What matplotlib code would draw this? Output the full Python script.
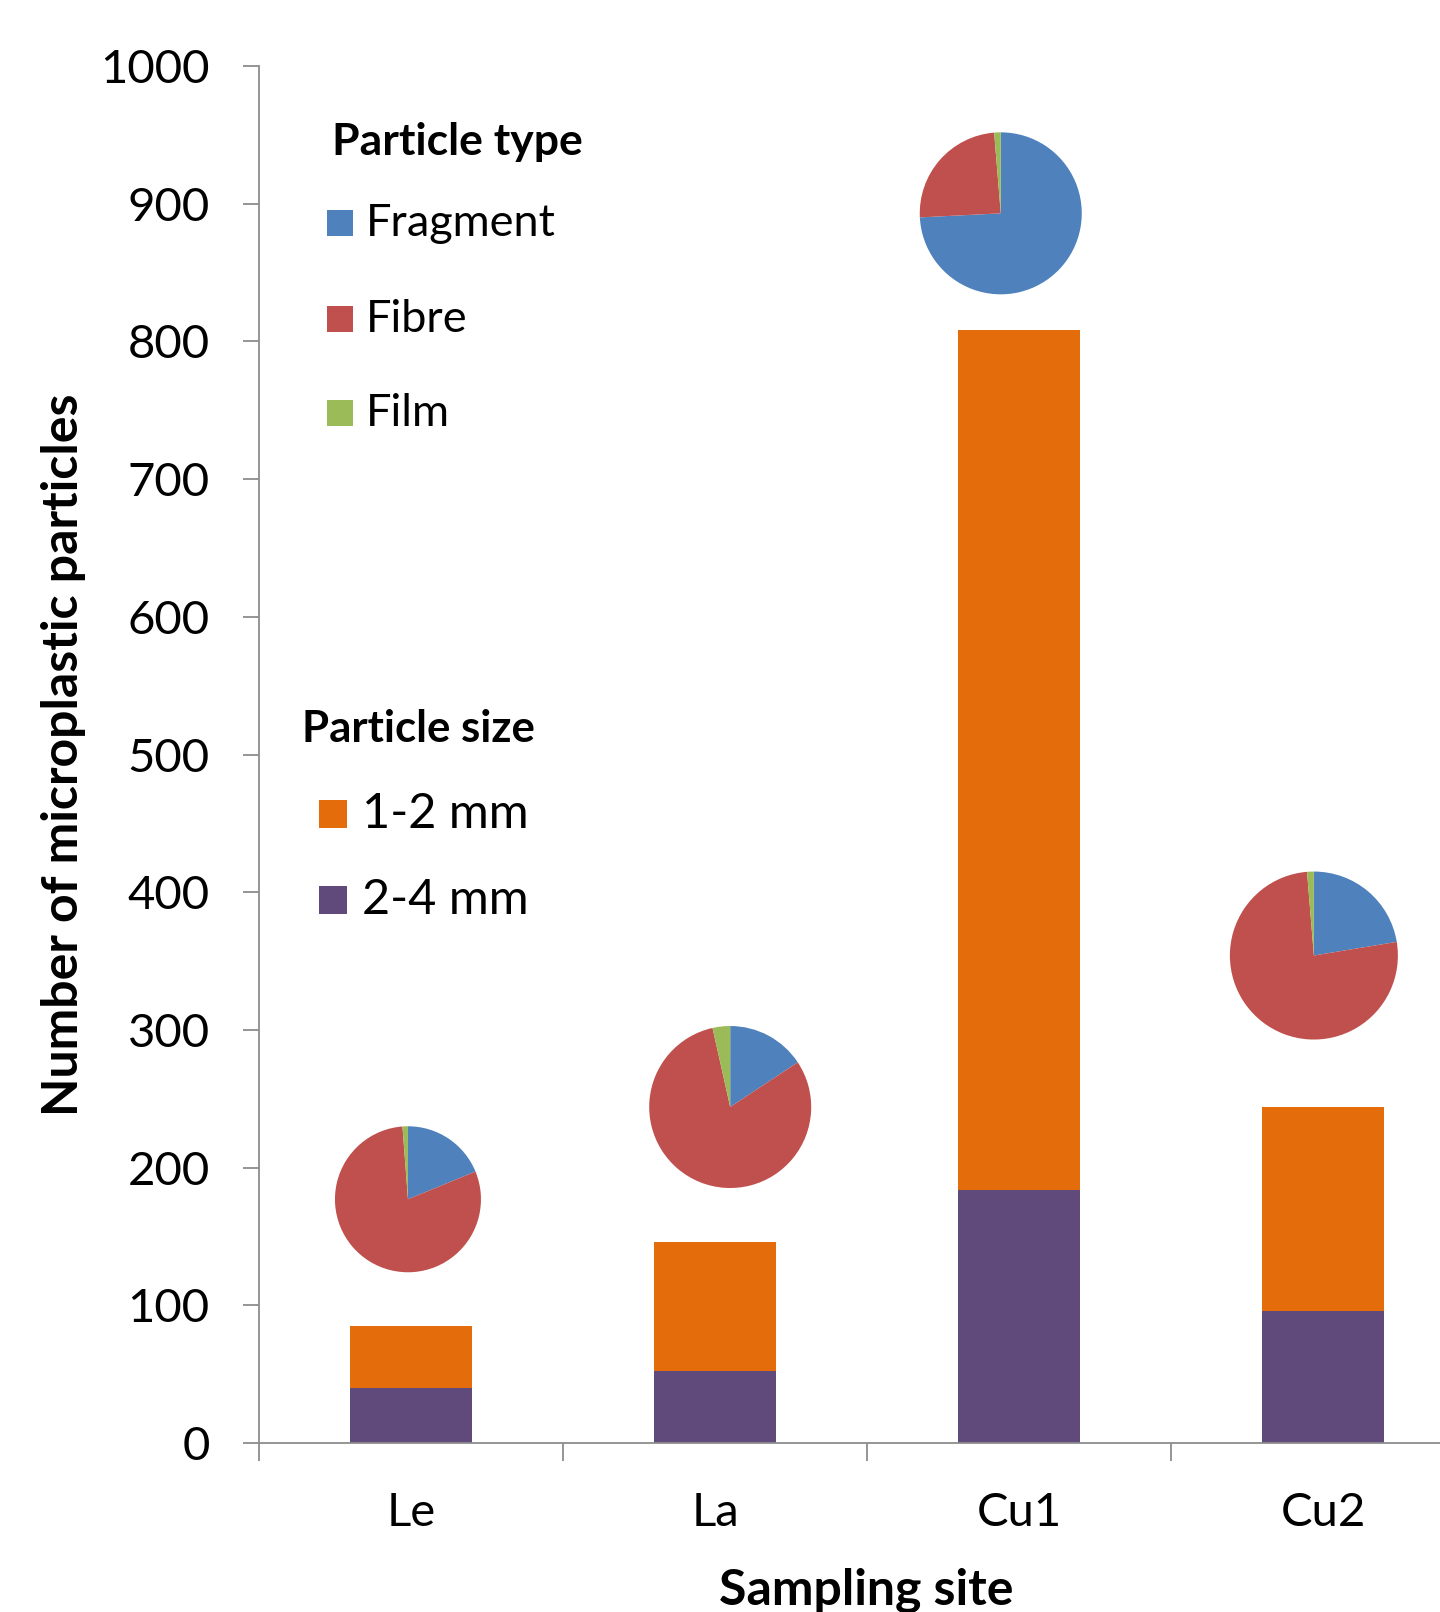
import matplotlib
matplotlib.use("Agg")
import matplotlib.pyplot as plt
from matplotlib.patches import Rectangle

plt.rcParams["font.family"] = ["Lato", "DejaVu Sans"]

# ── data ──
sites = ["Le", "La", "Cu1", "Cu2"]
size_2_4 = [40, 52, 184, 96]
size_1_2 = [45, 94, 624, 148]

type_labels = ["Fragment", "Fibre", "Film"]
fragment = [18.8, 15.7, 74.2, 22.4]
fibre = [80.0, 80.8, 24.5, 76.3]
film = [1.2, 3.5, 1.3, 1.3]

type_colors = ["#4F81BD", "#C0504D", "#9BBB59"]
size_labels = ["1-2 mm", "2-4 mm"]
size_colors = ["#E46C0A", "#604A7B"]

# pie placement (layout only): centre in data units, radius in pixels
pie_x = [-0.01, 1.05, 1.94, 2.97]
pie_y = [177, 244, 893, 354]
pie_r = [73, 81, 81, 84]

W, H = 1440, 1612
fig = plt.figure(figsize=(W / 100, H / 100), dpi=100)

# axes in pixel units: left 259, bottom 1443, top 66, category width 304
ax = fig.add_axes([259 / W, (H - 1443) / H, 4 * 304 / W, (1443 - 66) / H])
x = range(len(sites))
ax.bar(x, size_2_4, 0.4, color=size_colors[1], linewidth=0)
ax.bar(x, size_1_2, 0.4, bottom=size_2_4, color=size_colors[0], linewidth=0)

ax.set_xlim(-0.5, 3.5)
ax.set_ylim(0, 1000)
for s in ("top", "right"):
    ax.spines[s].set_visible(False)
for s in ("left", "bottom"):
    ax.spines[s].set_color("#8C8C8C")
    ax.spines[s].set_linewidth(1.3)

ax.set_yticks(range(0, 1001, 100))
ax.tick_params(axis="y", direction="out", length=11.5, width=1.3, color="#8C8C8C",
               labelsize=34, pad=24)
ax.set_xticks([-0.5, 0.5, 1.5, 2.5])
ax.set_xticklabels([])
ax.tick_params(axis="x", which="major", direction="out", length=13, width=1.3, color="#8C8C8C")
ax.set_xticks(list(x), minor=True)
ax.set_xticklabels(sites, minor=True)
ax.tick_params(axis="x", which="minor", length=0, labelsize=34, pad=35)

fig.text(866 / W, 1 - 1590 / H, "Sampling site", fontsize=36, fontweight="bold",
         ha="center", va="center")
fig.text(64 / W, 1 - 755 / H, "Number of microplastic particles", fontsize=36,
         fontweight="bold", ha="center", va="center", rotation=90)

# ── pies ──
fig.canvas.draw()
for i in range(len(sites)):
    cx, cy = ax.transData.transform((pie_x[i], pie_y[i]))
    r = pie_r[i]
    pax = fig.add_axes([(cx - r) / W, (cy - r) / H, 2 * r / W, 2 * r / H])
    pax.pie([fragment[i], fibre[i], film[i]], colors=type_colors, startangle=90,
            counterclock=False, radius=1, wedgeprops={"linewidth": 0})
    pax.set_xlim(-1, 1)
    pax.set_ylim(-1, 1)
    pax.set_aspect("equal")
    pax.axis("off")


# ── legends (pixel positions) ──
def legend_item(x_box, y_c, side, label, color, x_text, size):
    fig.patches.append(Rectangle(((x_box) / W, 1 - (y_c + side / 2) / H), side / W, side / H,
                                 transform=fig.transFigure, facecolor=color, edgecolor="none"))
    fig.text(x_text / W, 1 - y_c / H, label, fontsize=size, ha="left", va="center")


fig.text(332 / W, 1 - 142 / H, "Particle type", fontsize=32, fontweight="bold",
         ha="left", va="center")
for lab, col, yc in zip(type_labels, type_colors, [223, 319, 413]):
    legend_item(327, yc, 26, lab, col, 366, 32.5)

fig.text(302 / W, 1 - 729 / H, "Particle size", fontsize=31.5, fontweight="bold",
         ha="left", va="center")
for lab, col, yc in zip(size_labels, size_colors, [814, 900]):
    legend_item(319, yc, 28, lab, col, 362, 35)

fig.savefig("out.png", dpi=100)
